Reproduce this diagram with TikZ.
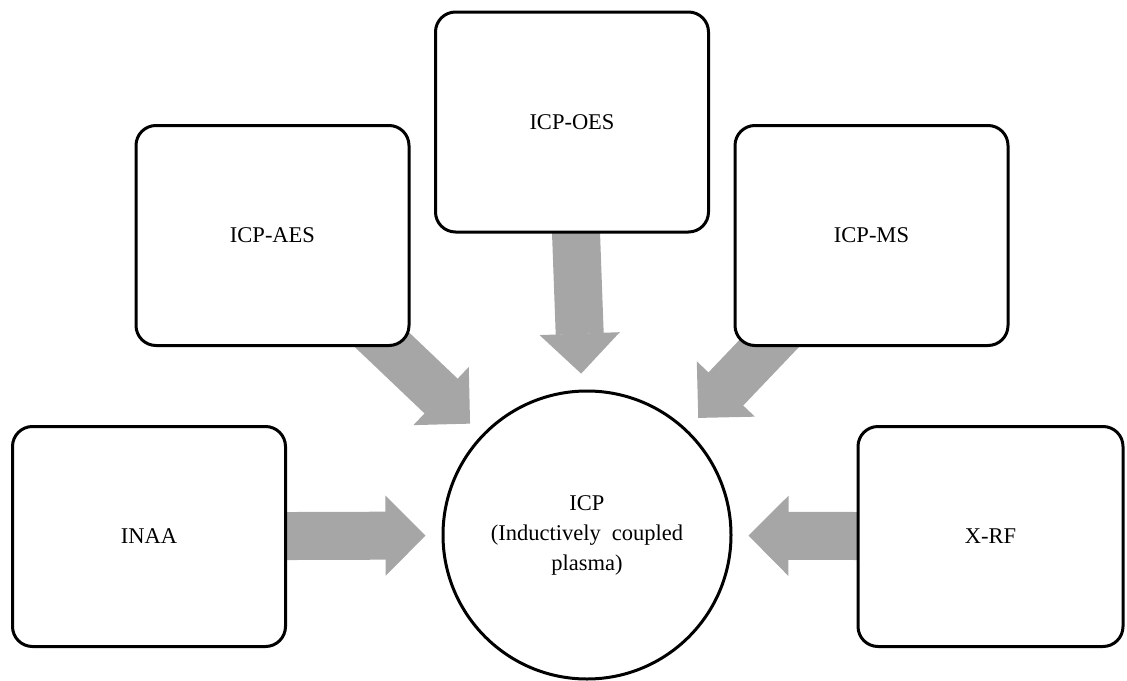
\documentclass[tikz,border=0pt]{standalone}
\usepackage{fontspec}
\setmainfont{Liberation Serif}
\usetikzlibrary{arrows.meta,backgrounds}
\definecolor{arrowgray}{RGB}{166,166,166}
\begin{document}
\begin{tikzpicture}[x=1pt,y=-1pt,
  box/.style={draw, line width=3pt, rounded corners=20pt, fill=white,
    minimum width=273pt, minimum height=220pt, inner sep=2pt,
    font=\fontsize{22.5}{28}\selectfont},
  hub/.style={draw, circle, line width=3pt, fill=white, minimum size=288pt,
    inner sep=0pt, align=center, font=\fontsize{22.5}{30}\selectfont},
  flow/.style={arrowgray, line width=48pt, shorten <=-40pt, shorten >=16pt,
    -{Triangle[length=40pt,width=80pt,line width=1.5pt]}}]
\useasboundingbox (0,0) rectangle (1127,680);
\node[box] (oes) at (572,122) {ICP-OES};
\node[box] (aes) at (272.5,235.5) {ICP-AES};
\node[box] (ms) at (871.5,235.5) {ICP-MS};
\node[box] (inaa) at (149,536.5) {INAA};
\node[box, minimum width=265pt] (xrf) at (990.5,536.5) {X-RF};
\node[hub] (icp) at (587,535) {ICP\\(Inductively\hspace{0.5em}coupled\\plasma)};
\begin{scope}[on background layer]
\draw[flow] (oes) -- (icp);
\draw[flow] (aes) -- (icp);
\draw[flow] (ms) -- (icp);
\draw[flow] (inaa) -- (icp);
\draw[flow] (xrf) -- (icp);
\end{scope}
\end{tikzpicture}
\end{document}
